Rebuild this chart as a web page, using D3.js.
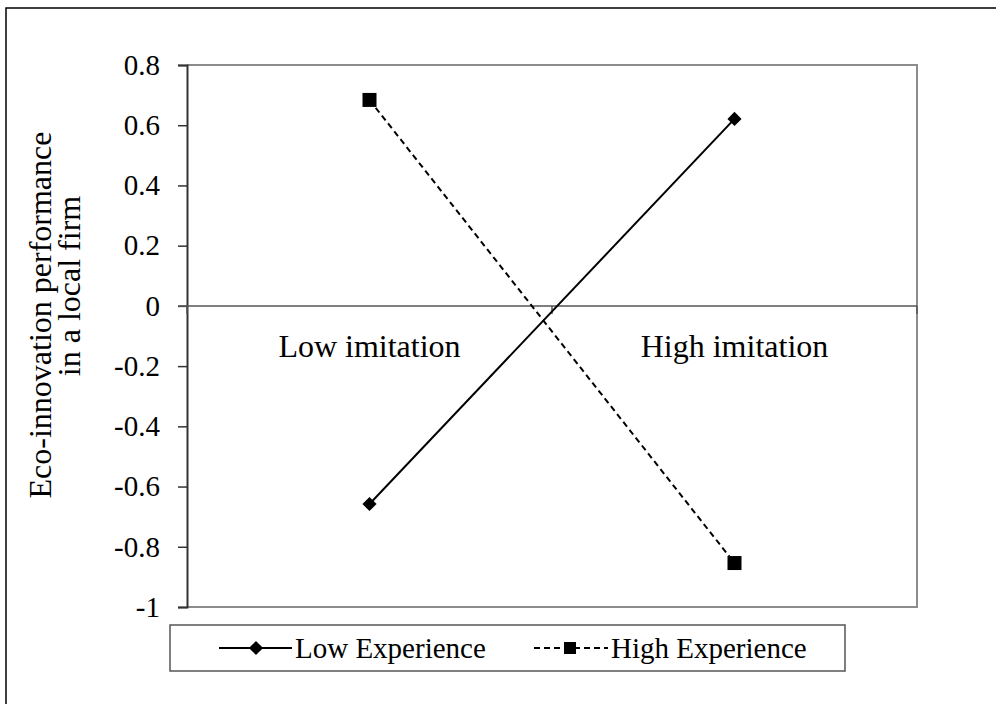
<html>
<script src="https://d3js.org/d3.v7.min.js"></script>
<style>
body { margin: 0; background: #fff; }
text { font-family: "Liberation Serif", "Times New Roman", serif; fill: #000; }
</style>
<body>
<div id="output"></div>
<script>
// chart data
var categories = ["Low imitation", "High imitation"];
var lowExperience = [-0.658, 0.621];
var highExperience = [0.684, -0.854];
var yTicks = [0.8, 0.6, 0.4, 0.2, 0, -0.2, -0.4, -0.6, -0.8, -1];
var seriesNames = ["Low Experience", "High Experience"];

var W = 996, H = 704;
var plot = {left: 187, right: 917, top: 65, bottom: 607};

var svg = d3.select("#output").append("svg")
    .attr("width", W)
    .attr("height", H);

// outer frame (runs off the right and bottom)
svg.append("path")
    .attr("d", "M6," + H + "V8H" + W)
    .attr("fill", "none")
    .attr("stroke", "#000")
    .attr("stroke-width", 1.5);

var x = d3.scalePoint()
    .domain(categories)
    .range([plot.left, plot.right])
    .padding(0.5);

var y = d3.scaleLinear()
    .domain([-1, 0.8])
    .range([plot.bottom, plot.top]);

// plot area border (top, right, bottom)
svg.append("path")
    .attr("d", "M" + plot.left + "," + plot.top + "H" + plot.right + "V" + plot.bottom + "H" + plot.left)
    .attr("fill", "none")
    .attr("stroke", "#8c8c8c")
    .attr("stroke-width", 2);

// Y axis
var yAxis = svg.append("g")
    .attr("transform", "translate(" + plot.left + ",0)")
    .call(d3.axisLeft(y)
        .tickValues(yTicks)
        .tickSize(9)
        .tickPadding(18)
        .tickFormat(function(d) { return String(Math.round(d * 10) / 10); }));
yAxis.select(".domain").attr("stroke", "#333").attr("stroke-width", 2);
yAxis.selectAll(".tick line").attr("stroke", "#333").attr("stroke-width", 1.5);
yAxis.selectAll(".tick text")
    .style("font-family", "'Liberation Serif', serif")
    .style("font-size", "29px")
    .attr("fill", "#000");

// category axis at zero
var y0 = y(0);
svg.append("line")
    .attr("x1", plot.left - 9).attr("x2", plot.right)
    .attr("y1", y0).attr("y2", y0)
    .attr("stroke", "#555")
    .attr("stroke-width", 1.5);
var bounds = [plot.left, (plot.left + plot.right) / 2, plot.right];
svg.selectAll(".cattick")
    .data(bounds)
    .enter().append("line")
    .attr("x1", function(d) { return d; }).attr("x2", function(d) { return d; })
    .attr("y1", y0).attr("y2", y0 + 8)
    .attr("stroke", "#555")
    .attr("stroke-width", 1.5);

svg.selectAll(".catlabel")
    .data(categories)
    .enter().append("text")
    .attr("x", function(d) { return x(d); })
    .attr("y", 357)
    .attr("text-anchor", "middle")
    .style("font-size", "32px")
    .text(function(d) { return d; });

// Y axis title
svg.append("text")
    .attr("transform", "translate(51,315) rotate(-90)")
    .attr("text-anchor", "middle")
    .style("font-size", "32px")
    .text("Eco-innovation performance");
svg.append("text")
    .attr("transform", "translate(80,286) rotate(-90)")
    .attr("text-anchor", "middle")
    .style("font-size", "32px")
    .text("in a local firm");

// series
var line = d3.line()
    .x(function(d, i) { return x(categories[i]); })
    .y(function(d) { return y(d); });

svg.append("path")
    .datum(lowExperience)
    .attr("d", line)
    .attr("fill", "none")
    .attr("stroke", "#000")
    .attr("stroke-width", 2);

svg.append("path")
    .datum(highExperience)
    .attr("d", line)
    .attr("fill", "none")
    .attr("stroke", "#000")
    .attr("stroke-width", 2)
    .attr("stroke-dasharray", "6,4");

var diamond = d3.symbol().type(d3.symbolSquare).size(100);

svg.selectAll(".lowpt")
    .data(lowExperience)
    .enter().append("path")
    .attr("d", diamond)
    .attr("transform", function(d, i) { return "translate(" + x(categories[i]) + "," + y(d) + ") rotate(45)"; })
    .attr("fill", "#000");

svg.selectAll(".highpt")
    .data(highExperience)
    .enter().append("rect")
    .attr("x", function(d, i) { return x(categories[i]) - 7; })
    .attr("y", function(d) { return y(d) - 7; })
    .attr("width", 14)
    .attr("height", 14)
    .attr("fill", "#000");

// legend
var leg = svg.append("g");
leg.append("rect")
    .attr("x", 170).attr("y", 625)
    .attr("width", 675).attr("height", 46)
    .attr("fill", "#fff")
    .attr("stroke", "#555")
    .attr("stroke-width", 1.5);

var ly = 648;
leg.append("line")
    .attr("x1", 219).attr("x2", 292).attr("y1", ly).attr("y2", ly)
    .attr("stroke", "#000").attr("stroke-width", 2);
leg.append("path")
    .attr("d", diamond)
    .attr("transform", "translate(256," + ly + ") rotate(45)")
    .attr("fill", "#000");
leg.append("text")
    .attr("x", 295).attr("y", ly + 10)
    .style("font-size", "29px")
    .text(seriesNames[0]);

leg.append("line")
    .attr("x1", 534).attr("x2", 608).attr("y1", ly).attr("y2", ly)
    .attr("stroke", "#000").attr("stroke-width", 2)
    .attr("stroke-dasharray", "6,4");
leg.append("rect")
    .attr("x", 564).attr("y", ly - 6)
    .attr("width", 12).attr("height", 12)
    .attr("fill", "#000");
leg.append("text")
    .attr("x", 611).attr("y", ly + 10)
    .style("font-size", "29px")
    .text(seriesNames[1]);
</script>
</body>
</html>
